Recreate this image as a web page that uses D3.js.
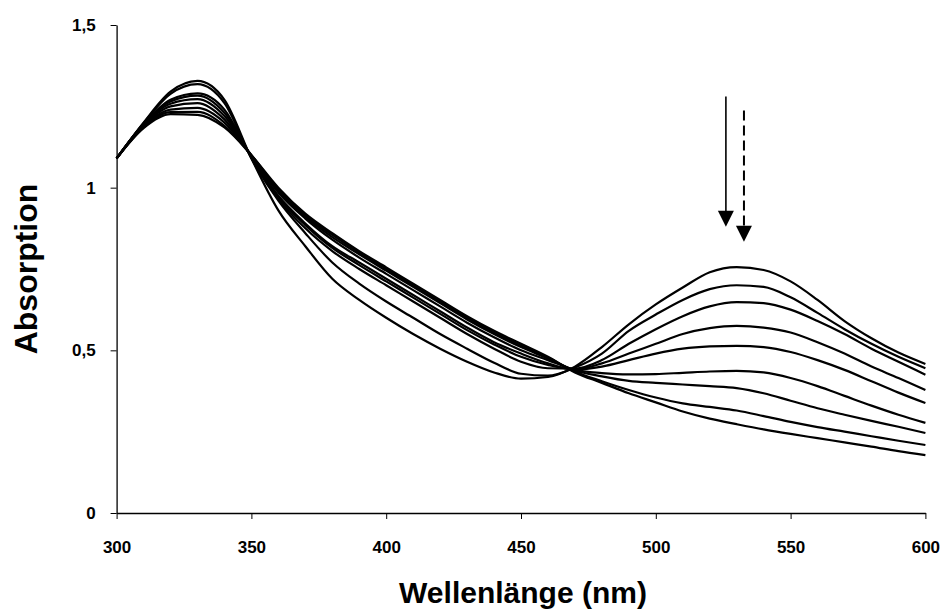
<!DOCTYPE html>
<html>
<head>
<meta charset="utf-8">
<script src="https://cdn.jsdelivr.net/npm/d3@7"></script>
<style>
  body { margin: 0; background: #fff; }
  text { font-family: Arial, "Liberation Sans", sans-serif; font-weight: bold; fill: #000; }
</style>
</head>
<body>
<div id="chart"></div>
<script>
// wavelengths (nm), one reading every 10 nm
const wavelengths = d3.range(300, 601, 10);

// absorption spectra, one per titration step
const spec0 = [1.09, 1.20, 1.295, 1.328, 1.27, 1.09, 0.93, 0.82, 0.72, 0.655, 0.60, 0.55, 0.505, 0.465, 0.432, 0.413, 0.418, 0.45, 0.51, 0.58, 0.641, 0.693, 0.74, 0.756, 0.747, 0.712, 0.655, 0.59, 0.537, 0.493, 0.458];
const spec1 = [1.09, 1.198, 1.288, 1.318, 1.26, 1.09, 0.96, 0.86, 0.77, 0.705, 0.65, 0.60, 0.55, 0.505, 0.462, 0.428, 0.422, 0.447, 0.49, 0.56, 0.61, 0.655, 0.688, 0.70, 0.695, 0.663, 0.615, 0.565, 0.52, 0.48, 0.445];
const spec2 = [1.09, 1.196, 1.27, 1.29, 1.24, 1.092, 0.965, 0.875, 0.805, 0.75, 0.70, 0.65, 0.60, 0.55, 0.505, 0.465, 0.445, 0.444, 0.47, 0.52, 0.565, 0.605, 0.635, 0.648, 0.645, 0.625, 0.59, 0.55, 0.505, 0.465, 0.425];
const spec3 = [1.09, 1.195, 1.265, 1.283, 1.23, 1.094, 0.97, 0.885, 0.815, 0.762, 0.712, 0.662, 0.612, 0.562, 0.518, 0.48, 0.455, 0.442, 0.46, 0.49, 0.52, 0.55, 0.568, 0.575, 0.57, 0.555, 0.525, 0.49, 0.45, 0.415, 0.378];
const spec4 = [1.09, 1.193, 1.258, 1.272, 1.22, 1.096, 0.975, 0.89, 0.82, 0.77, 0.72, 0.67, 0.62, 0.57, 0.525, 0.49, 0.46, 0.441, 0.45, 0.47, 0.49, 0.505, 0.512, 0.514, 0.51, 0.495, 0.47, 0.44, 0.405, 0.37, 0.338];
const spec5 = [1.09, 1.19, 1.25, 1.26, 1.21, 1.098, 0.985, 0.905, 0.84, 0.785, 0.735, 0.685, 0.635, 0.585, 0.54, 0.50, 0.47, 0.44, 0.43, 0.426, 0.427, 0.431, 0.435, 0.437, 0.432, 0.415, 0.39, 0.36, 0.33, 0.302, 0.277];
const spec6 = [1.09, 1.188, 1.24, 1.245, 1.20, 1.10, 0.99, 0.91, 0.848, 0.795, 0.745, 0.695, 0.645, 0.595, 0.55, 0.51, 0.475, 0.438, 0.42, 0.406, 0.40, 0.395, 0.39, 0.384, 0.368, 0.345, 0.322, 0.302, 0.283, 0.265, 0.246];
const spec7 = [1.09, 1.185, 1.232, 1.233, 1.19, 1.10, 0.995, 0.915, 0.855, 0.80, 0.75, 0.70, 0.65, 0.60, 0.555, 0.515, 0.478, 0.435, 0.405, 0.378, 0.355, 0.337, 0.326, 0.315, 0.298, 0.28, 0.264, 0.25, 0.236, 0.222, 0.209];
const spec8 = [1.09, 1.183, 1.226, 1.224, 1.185, 1.10, 1.0, 0.92, 0.86, 0.805, 0.755, 0.705, 0.655, 0.605, 0.56, 0.52, 0.48, 0.432, 0.40, 0.368, 0.34, 0.312, 0.29, 0.273, 0.257, 0.243, 0.23, 0.217, 0.204, 0.19, 0.178];
const spectra = [spec0, spec1, spec2, spec3, spec4, spec5, spec6, spec7, spec8];

// ticks
const xTicks = [300, 350, 400, 450, 500, 550, 600];
const yTicks = [0, 0.5, 1, 1.5];

// arrows [wavelength, from, to]
const solidArrow = [526, 1.28, 0.88];
const dashedArrow = [532.7, 1.237, 0.834];

const width = 947, height = 615;
const m = { left: 116.6, right: 925.4, top: 25, bottom: 513 };

const de = d3.formatLocale({ decimal: ",", thousands: ".", grouping: [3], currency: ["", "€"] });
const fmt = de.format("~g");

const svg = d3.select("#chart").append("svg")
  .attr("width", width)
  .attr("height", height);

const x = d3.scaleLinear().domain([300, 600]).range([m.left, m.right]);
const y = d3.scaleLinear().domain([0, 1.5]).range([m.bottom, m.top]);

//axes
const xAxis = svg.append("g")
  .attr("transform", `translate(0,${m.bottom})`)
  .call(d3.axisBottom(x).tickValues(xTicks).tickSize(6).tickPadding(22).tickSizeOuter(0));
const yAxis = svg.append("g")
  .attr("transform", `translate(${m.left},0)`)
  .call(d3.axisLeft(y).tickValues(yTicks).tickFormat(fmt).tickSize(6).tickPadding(15).tickSizeOuter(0));

[xAxis, yAxis].forEach((g) => {
  g.select(".domain").attr("stroke", "#000").attr("stroke-width", 1.3);
  g.selectAll(".tick line").attr("stroke", "#000");
  g.selectAll(".tick text").style("font-size", "17px").attr("fill", "#000");
});

//spectra
const line = d3.line()
  .x((d, i) => x(wavelengths[i]))
  .y((d) => y(d))
  .curve(d3.curveMonotoneX);

svg.append("g")
  .selectAll("path")
  .data(spectra)
  .join("path")
  .attr("d", line)
  .attr("fill", "none")
  .attr("stroke", "#000")
  .attr("stroke-width", 2.2)
  .attr("stroke-linejoin", "round");

//arrows
const drawArrow = (a, dash, w) => {
  const ax = x(a[0]);
  const y0 = y(a[1]);
  const y1 = y(a[2]);
  const head = 16;
  svg.append("line")
    .attr("x1", ax).attr("x2", ax)
    .attr("y1", y0).attr("y2", y1 - head + 2)
    .attr("stroke", "#000")
    .attr("stroke-width", w)
    .attr("stroke-dasharray", dash);
  svg.append("path")
    .attr("d", `M${ax - 8},${y1 - head}L${ax + 8},${y1 - head}L${ax},${y1}Z`)
    .attr("fill", "#000");
};
drawArrow(solidArrow, null, 1.6);
drawArrow(dashedArrow, "10,5", 2);

//titles
svg.append("text")
  .attr("x", 523)
  .attr("y", 603)
  .attr("text-anchor", "middle")
  .style("font-size", "30px")
  .text("Wellenlänge (nm)");

svg.append("text")
  .attr("transform", `translate(37,${(m.top + m.bottom) / 2}) rotate(-90)`)
  .attr("text-anchor", "middle")
  .style("font-size", "32px")
  .text("Absorption");
</script>
</body>
</html>
